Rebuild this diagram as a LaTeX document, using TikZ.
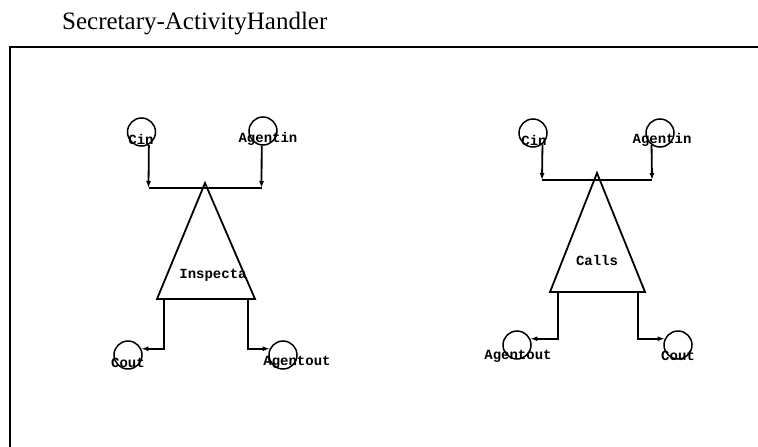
\documentclass[tikz,border=0pt]{standalone}
\usepackage{fontspec}
\setmainfont{Liberation Serif}
\setmonofont{Liberation Mono}
\usetikzlibrary{arrows.meta}
\tikzset{
  port/.style={draw,circle,line width=1.5pt,minimum size=28pt,inner sep=0pt},
  portlabel/.style={font=\ttfamily\bfseries\fontsize{14}{14}\selectfont,inner sep=0pt},
  flow/.style={line width=1.8pt,-{Latex[length=7pt,width=5pt]}},
  wire/.style={line width=1.8pt},
  agent/.style={line width=1.8pt,line join=miter}
}
\begin{document}
\begin{tikzpicture}[x=1pt,y=-1pt]
				\useasboundingbox (0,0) rectangle (758,447);
				\node[anchor=base west,inner sep=0pt,font=\fontsize{25}{27}\selectfont] (title) at (62,29) {Secretary-ActivityHandler};
				\coordinate (frameTL) at (10,47);
				\coordinate (frameTR) at (758,47);
				\coordinate (frameBL) at (10,447);
				\draw [line width=1.8pt] (frameBL) -- (frameTL) -- (frameTR);
				% Inspecta
				\coordinate (apexA) at (205,183);
				\coordinate (baseAL) at (157,299);
				\coordinate (baseAR) at (255,299);
				\draw [agent] (apexA) -- (baseAL) -- (baseAR) -- cycle;
				\node[portlabel] (inspecta) at (213,275) {Inspecta};
				\node[port] (cinA) at (141.5,132) {};
				\node[port] (agentinA) at (263,131) {};
				\node[port] (coutA) at (128,355) {};
				\node[port] (agentoutA) at (283,355) {};
				\coordinate (jointAL) at (148.5,188);
				\coordinate (jointAR) at (261.5,188);
				\coordinate (legAL) at (164,299);
				\coordinate (legAR) at (248,299);
				\draw [flow] (cinA.-60) -- (jointAL);
				\draw [flow] (agentinA.-95) -- (jointAR);
				\draw [wire] (jointAL) -- (jointAR);
				\draw [flow] (legAL) |- (coutA.25);
				\draw [flow] (legAR) |- (agentoutA.155);
				\node[portlabel] at (141,139) {Cin};
				\node[portlabel] at (268,139) {Agentin};
				\node[portlabel] at (128,363) {Cout};
				\node[portlabel] at (297,362) {Agentout};
				% Calls
				\coordinate (apexB) at (597,173);
				\coordinate (baseBL) at (550,292);
				\coordinate (baseBR) at (645,292);
				\draw [agent] (apexB) -- (baseBL) -- (baseBR) -- cycle;
				\node[portlabel] (calls) at (597,260) {Calls};
				\node[port] (cinB) at (533,133) {};
				\node[port] (agentinB) at (660,133) {};
				\node[port] (agentoutB) at (517,345) {};
				\node[port] (coutB) at (678,345) {};
				\coordinate (jointBL) at (542,180);
				\coordinate (jointBR) at (652,180);
				\coordinate (legBL) at (558,292);
				\coordinate (legBR) at (638,292);
				\draw [flow] (cinB.-50) -- (jointBL);
				\draw [flow] (agentinB.-125) -- (jointBR);
				\draw [wire] (jointBL) -- (jointBR);
				\draw [flow] (legBL) |- (agentoutB.25);
				\draw [flow] (legBR) |- (coutB.155);
				\node[portlabel] at (534,140) {Cin};
				\node[portlabel] at (662,140) {Agentin};
				\node[portlabel] at (518,356) {Agentout};
				\node[portlabel] at (678,356) {Cout};
\end{tikzpicture}
\end{document}
